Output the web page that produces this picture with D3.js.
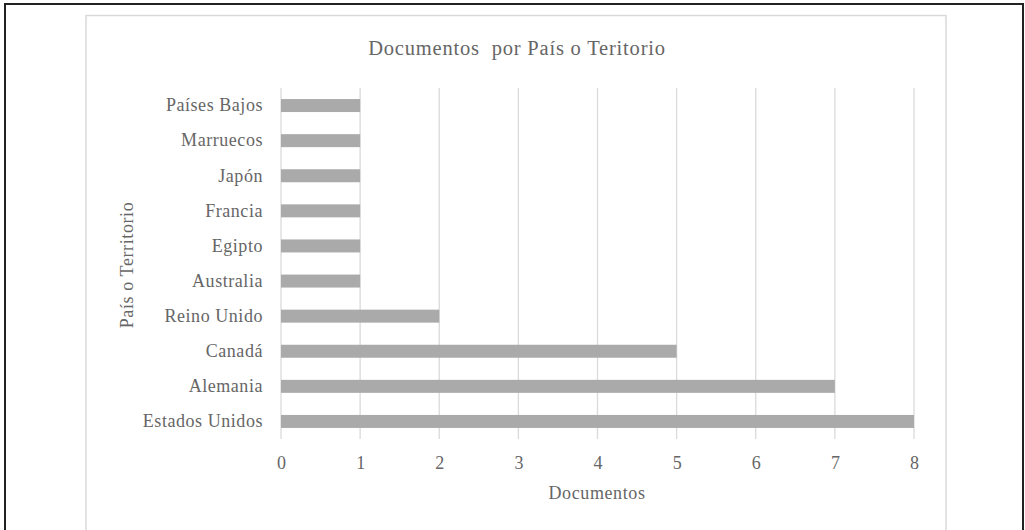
<!DOCTYPE html>
<html><head><meta charset="utf-8">
<script src="https://cdn.jsdelivr.net/npm/d3@7"></script>
<style>body{margin:0;background:#fff}svg{display:block}</style>
</head><body>
<svg id="c" width="1025" height="530"></svg>
<script>
const categories = ["Estados Unidos","Alemania","Canadá","Reino Unido","Australia","Egipto","Francia","Japón","Marruecos","Países Bajos"];
const values = [8,7,5,2,1,1,1,1,1,1];
const xTicks = [0,1,2,3,4,5,6,7,8];
const title = "Documentos  por País o Teritorio";
const xTitle = "Documentos";
const yTitle = "País o Territorio";

const svg = d3.select("#c");
const font = "'Liberation Serif','Times New Roman',serif";
const txt = "#666666";

// outer frame
svg.append("rect").attr("x",5).attr("y",4).attr("width",1018).attr("height",540)
  .attr("fill","none").attr("stroke","#222").attr("stroke-width",2);
// chart area frame
svg.append("rect").attr("x",86).attr("y",15.5).attr("width",860).attr("height",530)
  .attr("fill","#fff").attr("stroke","#d9d9d9").attr("stroke-width",1.5);

const pL = 281, pR = 914, pT = 88, pB = 439;
const x = d3.scaleLinear().domain([0,8]).range([pL,pR]);
const y = d3.scaleBand().domain(categories.slice().reverse()).range([pT,pB]).paddingInner(0.63).paddingOuter(0.315);

// gridlines
svg.append("g").selectAll("line").data(xTicks).join("line")
  .attr("x1",d=>x(d)).attr("x2",d=>x(d)).attr("y1",pT).attr("y2",pB)
  .attr("stroke","#dadada").attr("stroke-width",1.3);

// bars
svg.append("g").selectAll("rect").data(categories).join("rect")
  .attr("x",x(0)).attr("y",d=>y(d))
  .attr("width",(d,i)=>x(values[i])-x(0)).attr("height",y.bandwidth())
  .attr("fill","#aaaaaa");

// axes
const xAxis = d3.axisBottom(x).tickValues(xTicks).tickSize(0).tickPadding(17);
const gx = svg.append("g").attr("transform",`translate(0,${pB})`).call(xAxis);
gx.select(".domain").remove();
gx.selectAll("text").attr("font-family",font).attr("font-size",18).attr("fill",txt);

const yAxis = d3.axisLeft(y).tickSize(0).tickPadding(18);
const gy = svg.append("g").attr("transform",`translate(${pL},0)`).call(yAxis);
gy.select(".domain").remove();
gy.selectAll("text").attr("font-family",font).attr("font-size",18).attr("letter-spacing",0.55).attr("fill",txt);

// titles
svg.append("text").attr("x",517).attr("y",55).attr("text-anchor","middle")
  .attr("font-family",font).attr("font-size",20.5).attr("letter-spacing",0.8)
  .style("white-space","pre").attr("fill",txt).text(title);
svg.append("text").attr("x",597).attr("y",499).attr("text-anchor","middle")
  .attr("font-family",font).attr("font-size",18).attr("letter-spacing",0.6).attr("fill",txt).text(xTitle);
svg.append("text").attr("transform","translate(133,265) rotate(-90)").attr("text-anchor","middle")
  .attr("font-family",font).attr("font-size",18).attr("letter-spacing",0.6).attr("fill",txt).text(yTitle);
</script>
</body></html>
